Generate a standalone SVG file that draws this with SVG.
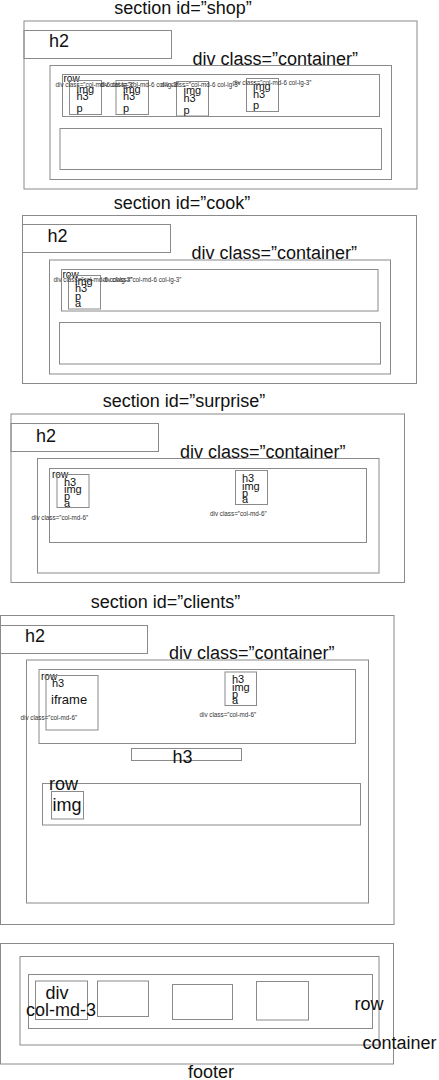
<svg xmlns="http://www.w3.org/2000/svg" width="439" height="1080" viewBox="0 0 439 1080">
<style>
.b{fill:none;stroke:#8a8a8a;stroke-width:1}
text{font-family:"Liberation Sans",Arial,sans-serif;fill:#111}
.l{font-size:18px}
.c{text-anchor:middle}
.m{font-size:11px}
.r{font-size:10px}
.f{font-size:13px}
.s{font-size:6.3px;fill:#333}
</style>
<rect width="439" height="1080" fill="#fff"/>
<g id="connectors"/>

<g id="shop">
<text class="l c" x="183" y="14">section id=”shop”</text>
<rect class="b" x="24" y="21" width="393" height="168"/>
<g id="shop-h2"><rect class="b" x="24" y="30.5" width="147.5" height="28"/><text class="l" x="49" y="47">h2</text></g>
<g id="shop-container">
<text class="l" x="192.5" y="65">div class=”container”</text>
<rect class="b" x="50" y="65.5" width="341.5" height="114"/>
<g id="shop-row">
<rect class="b" x="62.5" y="74.5" width="317" height="42"/>
<text class="r" x="63.5" y="82">row</text>
<g id="shop-col1"><rect class="b" x="69.5" y="80.5" width="32" height="34"/><text class="m" x="76.5" y="92.5">img</text><text class="m" x="76.5" y="100">h3</text><text class="m" x="76.5" y="112">p</text></g>
<g id="shop-col2"><rect class="b" x="116" y="80.5" width="32.5" height="34"/><text class="m" x="123" y="92.5">img</text><text class="m" x="123" y="100">h3</text><text class="m" x="123" y="112">p</text></g>
<g id="shop-col3"><rect class="b" x="176.5" y="81.5" width="32" height="34.5"/><text class="m" x="183.5" y="94">img</text><text class="m" x="183.5" y="101.5">h3</text><text class="m" x="183.5" y="113.5">p</text></g>
<g id="shop-col4"><rect class="b" x="246.5" y="78.5" width="32" height="33"/><text class="m" x="253" y="90">img</text><text class="m" x="253" y="97.5">h3</text><text class="m" x="253" y="109">p</text></g>
<text class="s" x="55.5" y="86.5">div class=”col-md-6 col-lg-3”</text>
<text class="s" x="100" y="86.5">div class=”col-md-6 col-lg-3”</text>
<text class="s" x="161" y="86.5">div class=”col-md-6 col-lg-3”</text>
<text class="s" x="232.5" y="84.5">div class=”col-md-6 col-lg-3”</text>
</g>
<g id="shop-row2"><rect class="b" x="60" y="128.5" width="321.5" height="41"/></g>
</g>
</g>

<g id="cook">
<text class="l c" x="182" y="209">section id=”cook”</text>
<rect class="b" x="22.5" y="215.5" width="394" height="168"/>
<g id="cook-h2"><rect class="b" x="22.5" y="224.5" width="148" height="28"/><text class="l" x="47.5" y="242">h2</text></g>
<g id="cook-container">
<text class="l" x="191.5" y="259">div class=”container”</text>
<rect class="b" x="49.5" y="260" width="341" height="114"/>
<g id="cook-row">
<rect class="b" x="61.5" y="269.5" width="316.5" height="41.5"/>
<text class="r" x="62.5" y="277.5">row</text>
<g id="cook-col1"><rect class="b" x="68.5" y="275.5" width="32" height="33.5"/><text class="m" x="75" y="285">img</text><text class="m" x="75" y="292">h3</text><text class="m" x="75" y="300">p</text><text class="m" x="75" y="307">a</text></g>
<text class="s" x="53.5" y="282">div class=”col-md-6 col-lg-3”</text>
<text class="s" x="102.5" y="282">div class=”col-md-6 col-lg-3”</text>
</g>
<g id="cook-row2"><rect class="b" x="59.5" y="322.5" width="321" height="41.5"/></g>
</g>
</g>

<g id="surprise">
<text class="l c" x="184" y="407">section id=”surprise”</text>
<rect class="b" x="11" y="414" width="393.5" height="168.5"/>
<g id="surprise-h2"><rect class="b" x="11" y="423.5" width="147.5" height="28"/><text class="l" x="36" y="441.5">h2</text></g>
<g id="surprise-container">
<text class="l" x="180" y="458">div class=”container”</text>
<rect class="b" x="37.5" y="458.5" width="341.5" height="114.5"/>
<g id="surprise-row">
<rect class="b" x="49.5" y="468.5" width="317" height="74"/>
<text class="r" x="52" y="478">row</text>
<g id="surprise-col1"><rect class="b" x="57" y="474.5" width="32" height="33"/><text class="m" x="64" y="485.5">h3</text><text class="m" x="64" y="493">img</text><text class="m" x="64" y="500">p</text><text class="m" x="64" y="506.5">a</text><text class="s" x="31.5" y="519.5">div class=”col-md-6”</text></g>
<g id="surprise-col2"><rect class="b" x="235.5" y="470.5" width="32" height="34"/><text class="m" x="242" y="482">h3</text><text class="m" x="242" y="490">img</text><text class="m" x="242" y="496.5">p</text><text class="m" x="242" y="503">a</text><text class="s" x="210" y="516">div class=”col-md-6”</text></g>
</g>
</g>
</g>

<g id="clients">
<text class="l c" x="165.5" y="607.5">section id=”clients”</text>
<rect class="b" x="0.5" y="615.5" width="393.5" height="309"/>
<g id="clients-h2"><rect class="b" x="0.5" y="625.5" width="147" height="28"/><text class="l" x="25" y="642">h2</text></g>
<g id="clients-container">
<text class="l" x="169" y="659">div class=”container”</text>
<rect class="b" x="26.5" y="660" width="342" height="243"/>
<g id="clients-row">
<rect class="b" x="39" y="669.5" width="316.5" height="74"/>
<text class="r" x="41" y="679.5">row</text>
<g id="clients-col1"><rect class="b" x="46" y="675.5" width="52" height="54.5"/><text class="m" x="52" y="687">h3</text><text class="f" x="51" y="703.5">iframe</text><text class="s" x="20.5" y="720">div class=”col-md-6”</text></g>
<g id="clients-col2"><rect class="b" x="225" y="672" width="31.5" height="33.5"/><text class="m" x="232" y="683">h3</text><text class="m" x="232" y="691">img</text><text class="m" x="232" y="697.5">p</text><text class="m" x="232" y="704">a</text><text class="s" x="199.5" y="717">div class=”col-md-6”</text></g>
</g>
<g id="clients-h3"><rect class="b" x="131.5" y="748.5" width="110" height="12"/><text class="l c" x="182.5" y="763">h3</text></g>
<g id="clients-row2"><rect class="b" x="42.5" y="783.5" width="318" height="41.5"/><text class="l" x="49" y="789.5">row</text>
<g id="clients-img"><rect class="b" x="51.5" y="791.5" width="32" height="27.5"/><text class="l" x="52.5" y="810.5">img</text></g></g>
</g>
</g>

<g id="footer">
<rect class="b" x="0.5" y="943.5" width="393" height="120.5"/>
<g id="footer-container"><rect class="b" x="20" y="956.5" width="359" height="88.5"/>
<g id="footer-row"><rect class="b" x="28.5" y="974.5" width="344" height="54"/>
<g id="footer-col1"><rect class="b" x="35.5" y="981" width="52" height="38.5"/><text class="l c" x="57" y="998.5">div</text><text class="l" x="26" y="1016">col-md-3</text></g>
<g id="footer-col2"><rect class="b" x="97.5" y="981" width="51" height="35.5"/></g>
<g id="footer-col3"><rect class="b" x="172.5" y="984.5" width="60" height="35"/></g>
<g id="footer-col4"><rect class="b" x="256.5" y="981.5" width="52" height="38.5"/></g>
<text class="l" x="354.5" y="1010">row</text>
</g>
<text class="l" x="362.5" y="1049">container</text>
</g>
<text class="l c" x="211" y="1078">footer</text>
</g>
</svg>
